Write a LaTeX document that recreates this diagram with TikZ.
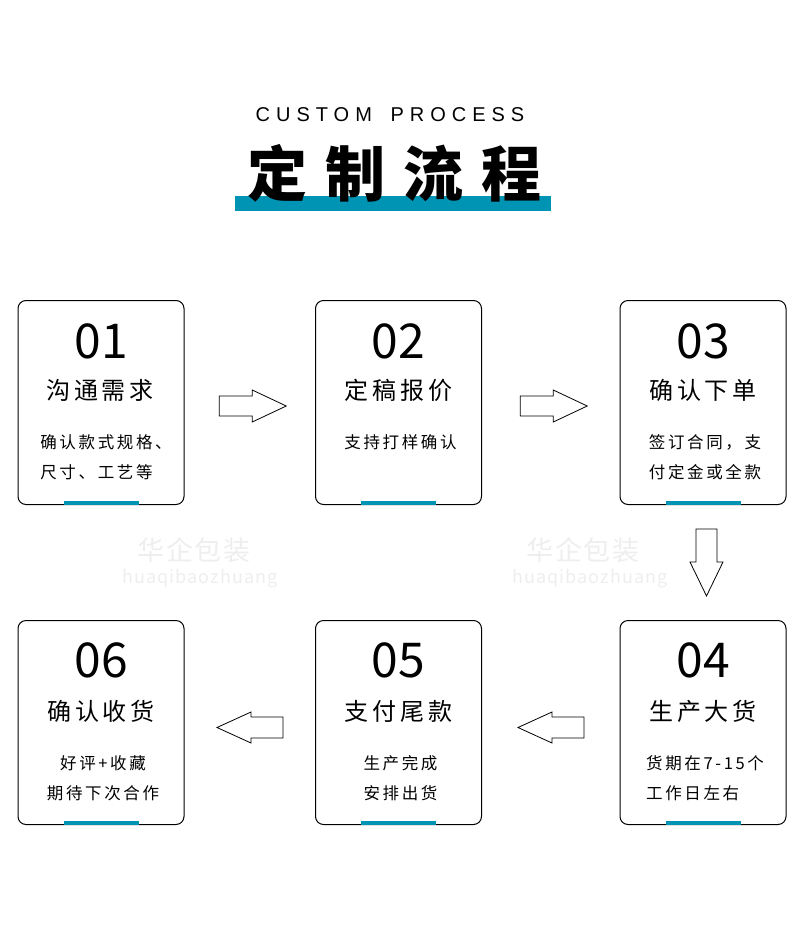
\documentclass[tikz,border=0pt]{standalone}
\usepackage{fontspec}
\usepackage{xcolor}
\setmainfont{Noto Sans CJK SC}
\newfontfamily\latinwide[LetterSpace=30]{Liberation Sans}
\newfontfamily\cjkwide[LetterSpace=16]{Noto Sans CJK SC}
\newfontfamily\cjkdesc[LetterSpace=16]{Noto Sans CJK SC}
\newfontfamily\titlewide[LetterSpace=30]{Noto Sans CJK SC}
\newfontfamily\markfont[LetterSpace=6]{Noto Sans CJK SC}
\usetikzlibrary{positioning,calc}
\definecolor{brandblue}{RGB}{0,148,180}
\definecolor{markgray}{RGB}{238,238,238}

\begin{document}
\begin{tikzpicture}[x=1pt,y=-1pt,
    stepcard/.style={draw, line width=1pt, rounded corners=8pt,
      minimum width=166pt, minimum height=204pt},
    stepnum/.style={font=\fontsize{48}{48}\selectfont},
    stephead/.style={font=\cjkwide\fontsize{24}{24}\selectfont},
    stepdesc/.style={font=\cjkdesc\fontsize{16.5}{30}\selectfont, align=center},
    stepbar/.style={brandblue, line width=4pt},
    blockarrow/.style={draw, line width=.8pt, fill=white},
    watermark/.style={text=markgray, font=\markfont\fontsize{27}{27}\selectfont}]
  \useasboundingbox (0,0) rectangle (800,929);

  % title
  \fill[brandblue] (235,196) rectangle (551,211);
  \node[font=\latinwide\fontsize{20}{20}\selectfont] (subtitle) at (390,115) {CUSTOM\hspace{7pt} PROCESS};
  \node[font=\titlewide\bfseries\fontsize{60}{60}\selectfont] (title) at (394,173) {定制流程};

  % watermarks
  \node[watermark] (wm1) at (194,550) {华企包装};
  \node[watermark, font=\markfont\fontsize{18}{18}\selectfont] (wmt1) at (200,579) {huaqibaozhuang};
  \node[watermark] (wm2) at (583,550) {华企包装};
  \node[watermark, font=\markfont\fontsize{18}{18}\selectfont] (wmt2) at (590,579) {huaqibaozhuang};

  % cards
  \node[stepcard] (s1) at (101,402.5) {};
  \node[stepcard] (s2) at (398.5,402.5) {};
  \node[stepcard] (s3) at (703,402.5) {};
  \node[stepcard] (s4) at (703,722.5) {};
  \node[stepcard] (s5) at (398.5,722.5) {};
  \node[stepcard] (s6) at (101,722.5) {};

  \node[stepnum] (n1) at ($(s1.north)+(0,41)$) {01};
  \node[stephead] (h1) at ($(s1.north)+(-1,90)$) {沟通需求};
  \node[stepdesc, align=left] (d1) at ($(s1.north)+(5,157)$) {确认款式规格、\\尺寸、工艺等};

  \node[stepnum] (n2) at ($(s2.north)+(0,41)$) {02};
  \node[stephead] (h2) at ($(s2.north)+(0,90)$) {定稿报价};
  \node[stepdesc] (d2) at ($(s2.north)+(2,142)$) {支持打样确认};

  \node[stepnum] (n3) at ($(s3.north)+(0,41)$) {03};
  \node[stephead] (h3) at ($(s3.north)+(0,90)$) {确认下单};
  \node[stepdesc] (d3) at ($(s3.north)+(2,157)$) {签订合同，支\\付定金或全款};

  \node[stepnum] (n4) at ($(s4.north)+(0,40)$) {04};
  \node[stephead] (h4) at ($(s4.north)+(0,91)$) {生产大货};
  \node[stepdesc, align=left] (d4) at ($(s4.north)+(2,158)$) {货期在7-15个\\工作日左右};

  \node[stepnum] (n5) at ($(s5.north)+(0,40)$) {05};
  \node[stephead] (h5) at ($(s5.north)+(0,91)$) {支付尾款};
  \node[stepdesc] (d5) at ($(s5.north)+(2,158)$) {生产完成\\安排出货};

  \node[stepnum] (n6) at ($(s6.north)+(0,40)$) {06};
  \node[stephead] (h6) at ($(s6.north)+(0,91)$) {确认收货};
  \node[stepdesc] (d6) at ($(s6.north)+(2,158)$) {好评+收藏\\期待下次合作};

  \draw[stepbar] ($(s1.south)+(-37.5,-2.5)$) -- ($(s1.south)+(37.5,-2.5)$);
  \draw[stepbar] ($(s2.south)+(-37.5,-2.5)$) -- ($(s2.south)+(37.5,-2.5)$);
  \draw[stepbar] ($(s3.south)+(-37.5,-2.5)$) -- ($(s3.south)+(37.5,-2.5)$);
  \draw[stepbar] ($(s4.south)+(-37.5,-2.5)$) -- ($(s4.south)+(37.5,-2.5)$);
  \draw[stepbar] ($(s5.south)+(-37.5,-2.5)$) -- ($(s5.south)+(37.5,-2.5)$);
  \draw[stepbar] ($(s6.south)+(-37.5,-2.5)$) -- ($(s6.south)+(37.5,-2.5)$);

  % arrows between cards
  \coordinate (g12) at ($(s1.east)!.5!(s2.west)$);
  \coordinate (g23) at ($(s2.east)!.5!(s3.west)$);
  \coordinate (g34) at ($(s3.south)!.5!(s4.north)$);
  \coordinate (g45) at ($(s5.east)!.5!(s4.west)$);
  \coordinate (g56) at ($(s6.east)!.5!(s5.west)$);

  \draw[blockarrow] ($(g12)+(-30.5,-6.5)$) -- ++(33,0) -- ++(0,-6) -- ++(34,16)
    -- ++(-34,16) -- ++(0,-6) -- ++(-33,0) -- cycle;
  \draw[blockarrow] ($(g23)+(-30.5,-6.5)$) -- ++(33,0) -- ++(0,-6) -- ++(34,16)
    -- ++(-34,16) -- ++(0,-6) -- ++(-33,0) -- cycle;
  \draw[blockarrow] ($(g34)+(-7,-33.5)$) -- ++(0,33) -- ++(-6,0) -- ++(16.5,34)
    -- ++(16.5,-34) -- ++(-6,0) -- ++(0,-33) -- cycle;
  \draw[blockarrow] ($(g45)+(33.25,-5.5)$) -- ++(-32,0) -- ++(0,-5) -- ++(-34,15.5)
    -- ++(34,15.5) -- ++(0,-5) -- ++(32,0) -- cycle;
  \draw[blockarrow] ($(g56)+(33.25,-5.5)$) -- ++(-32,0) -- ++(0,-5) -- ++(-34,15.5)
    -- ++(34,15.5) -- ++(0,-5) -- ++(32,0) -- cycle;
\end{tikzpicture}
\end{document}
